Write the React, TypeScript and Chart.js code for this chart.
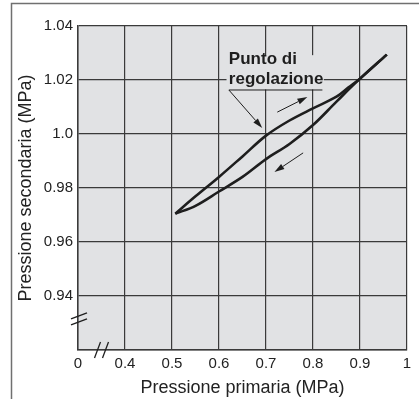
import React, { useEffect, useRef } from "react";
import { Chart, registerables } from "chart.js";

Chart.register(...registerables);

// ---- data ----
const xTickValues = [0.3, 0.4, 0.5, 0.6, 0.7, 0.8, 0.9, 1.0];
const xTickLabels = ["0", "0.4", "0.5", "0.6", "0.7", "0.8", "0.9", "1"];
const yTickValues = [0.92, 0.94, 0.96, 0.98, 1.0, 1.02, 1.04];
const yTickLabels = ["", "0.94", "0.96", "0.98", "1.0", "1.02", "1.04"];

// rising pressure (upper branch)
const risingX = [0.507, 0.55, 0.6, 0.65, 0.7, 0.75, 0.8, 0.85, 0.875, 0.9, 0.957];
const risingY = [0.9705, 0.9769, 0.9841, 0.9917, 0.9994, 1.005, 1.0095, 1.0138, 1.0172, 1.0205, 1.0294];
// falling pressure (lower branch)
const fallingX = [0.507, 0.55, 0.6, 0.65, 0.7, 0.75, 0.8, 0.85, 0.9, 0.957];
const fallingY = [0.9705, 0.9734, 0.9787, 0.9841, 0.9907, 0.9963, 1.0033, 1.012, 1.0205, 1.0294];

const labelLines = ["Punto di", "regolazione"];
const xTitle = "Pressione primaria (MPa)";
const yTitle = "Pressione secondaria (MPa)";

// ---- annotation placement (data units) ----
const annot = {
  textX: 0.621,
  line1Y: 1.0259,
  line2Y: 1.0185,
  boxX: [0.616, 0.823],
  boxY: [1.0292, 1.0165],
  underlineY: 1.0163,
  underlineX: [0.621, 0.82],
  leader: [0.621, 1.0163, 0.692, 1.0022],
  upArrow: [0.724, 1.0081, 0.788, 1.0137],
  downArrow: [0.779, 0.993, 0.718, 0.9859],
  xBreak: 0.35,
  yBreak: 0.9315,
};

const PLOT_BG = "#e1e2e4";
const INK = "#1e1e1e";
const GRID = "#3a3a3a";
const FONT = "'Liberation Sans', Arial, Helvetica, sans-serif";

function drawArrow(ctx: CanvasRenderingContext2D, x1: number, y1: number, x2: number, y2: number) {
  const ang = Math.atan2(y2 - y1, x2 - x1);
  const len = 10;
  const hw = 3;
  const bx = x2 - len * Math.cos(ang);
  const by = y2 - len * Math.sin(ang);
  ctx.beginPath();
  ctx.moveTo(x1, y1);
  ctx.lineTo(bx, by);
  ctx.stroke();
  ctx.beginPath();
  ctx.moveTo(x2, y2);
  ctx.lineTo(bx + hw * Math.sin(ang), by - hw * Math.cos(ang));
  ctx.lineTo(bx - hw * Math.sin(ang), by + hw * Math.cos(ang));
  ctx.closePath();
  ctx.fill();
}

const decorPlugin = {
  id: "decor",
  beforeDraw(chart: any) {
    const { ctx, chartArea: a } = chart;
    ctx.save();
    ctx.fillStyle = "#ffffff";
    ctx.fillRect(0, 0, chart.width, chart.height);
    ctx.fillStyle = PLOT_BG;
    ctx.fillRect(a.left, a.top, a.right - a.left, a.bottom - a.top);
    ctx.restore();
  },
  afterDatasetsDraw(chart: any) {
    const { ctx, chartArea: a } = chart;
    const xs = chart.scales.x;
    const ys = chart.scales.y;
    const px = (v: number) => xs.getPixelForValue(v);
    const py = (v: number) => ys.getPixelForValue(v);
    ctx.save();
    // text background box hiding grid lines
    ctx.fillStyle = PLOT_BG;
    ctx.fillRect(px(annot.boxX[0]), py(annot.boxY[0]), px(annot.boxX[1]) - px(annot.boxX[0]), py(annot.boxY[1]) - py(annot.boxY[0]));
    // text
    ctx.fillStyle = INK;
    ctx.font = `bold 17px ${FONT}`;
    ctx.textAlign = "left";
    ctx.textBaseline = "alphabetic";
    ctx.fillText(labelLines[0], px(annot.textX), py(annot.line1Y));
    ctx.fillText(labelLines[1], px(annot.textX), py(annot.line2Y));
    // underline + leader
    ctx.strokeStyle = INK;
    ctx.lineWidth = 1;
    ctx.beginPath();
    ctx.moveTo(px(annot.underlineX[0]), py(annot.underlineY));
    ctx.lineTo(px(annot.underlineX[1]), py(annot.underlineY));
    ctx.stroke();
    const arrows = [annot.leader, annot.upArrow, annot.downArrow];
    for (const ar of arrows) {
      drawArrow(ctx, px(ar[0]), py(ar[1]), px(ar[2]), py(ar[3]));
    }
    // axis breaks
    ctx.lineWidth = 1.3;
    const bx = px(annot.xBreak);
    const by = a.bottom;
    for (const dx of [-4, 4]) {
      ctx.beginPath();
      ctx.moveTo(bx + dx - 3, by + 8);
      ctx.lineTo(bx + dx + 3, by - 8);
      ctx.stroke();
    }
    const yx = a.left;
    const yy = py(annot.yBreak);
    for (const dy of [-3, 3]) {
      ctx.beginPath();
      ctx.moveTo(yx - 7, yy + dy + 3);
      ctx.lineTo(yx + 9, yy + dy - 3);
      ctx.stroke();
    }
    ctx.restore();
  },
  afterDraw(chart: any) {
    const { ctx } = chart;
    ctx.save();
    ctx.strokeStyle = "#707070";
    ctx.lineWidth = 1.5;
    ctx.beginPath();
    ctx.moveTo(11.5, chart.height);
    ctx.lineTo(11.5, 3.5);
    ctx.lineTo(chart.width, 3.5);
    ctx.stroke();
    ctx.restore();
  },
};

export default function App() {
  const ref = useRef<HTMLCanvasElement | null>(null);
  useEffect(() => {
    if (!ref.current) return;
    Chart.defaults.font.family = FONT;
    const mk = (xsArr: number[], ysArr: number[]) => xsArr.map((x, i) => ({ x, y: ysArr[i] }));
    const lineStyle = {
      borderColor: INK,
      borderWidth: 2.6,
      pointRadius: 0,
      tension: 0.35,
      fill: false,
      showLine: true,
    };
    const chart = new Chart(ref.current, {
      type: "line",
      data: {
        datasets: [
          { label: "rising", data: mk(risingX, risingY), ...lineStyle },
          { label: "falling", data: mk(fallingX, fallingY), ...lineStyle },
        ],
      },
      options: {
        responsive: false,
        animation: false,
        events: [],
        layout: { padding: { top: 26, right: 12, bottom: 0, left: 0 } },
        plugins: { legend: { display: false }, tooltip: { enabled: false } },
        scales: {
          x: {
            type: "linear",
            min: 0.3,
            max: 1.0,
            afterBuildTicks: (s: any) => {
              s.ticks = xTickValues.map((v) => ({ value: v }));
            },
            afterFit: (s: any) => {
              s.height = 49;
            },
            ticks: {
              callback: (_v: any, i: number) => xTickLabels[i],
              font: { size: 15 },
              color: "#222",
              padding: 5,
              maxRotation: 0,
              autoSkip: false,
            },
            grid: { color: GRID, lineWidth: 1.2, drawTicks: false },
            border: { color: GRID, width: 1.5 },
            title: {
              display: true,
              text: xTitle,
              font: { size: 18 },
              color: "#222",
              padding: { top: 0, bottom: 0 },
            },
          },
          y: {
            type: "linear",
            min: 0.92,
            max: 1.04,
            afterBuildTicks: (s: any) => {
              s.ticks = yTickValues.map((v) => ({ value: v }));
            },
            afterFit: (s: any) => {
              s.width = 78;
            },
            ticks: {
              callback: (_v: any, i: number) => yTickLabels[i],
              font: { size: 15 },
              color: "#222",
              padding: 5,
              autoSkip: false,
            },
            grid: { color: GRID, lineWidth: 1.2, drawTicks: false },
            border: { color: GRID, width: 1.5 },
            title: {
              display: true,
              text: yTitle,
              font: { size: 18 },
              color: "#222",
              padding: { top: 15, bottom: 0 },
            },
          },
        },
      },
      plugins: [decorPlugin],
    } as any);
    return () => chart.destroy();
  }, []);
  return (
    <div style={{ position: "absolute", left: 0, top: 0, width: 419, height: 399, background: "#fff" }}>
      <canvas ref={ref} width={419} height={399} style={{ display: "block", width: 419, height: 399 }} />
    </div>
  );
}
